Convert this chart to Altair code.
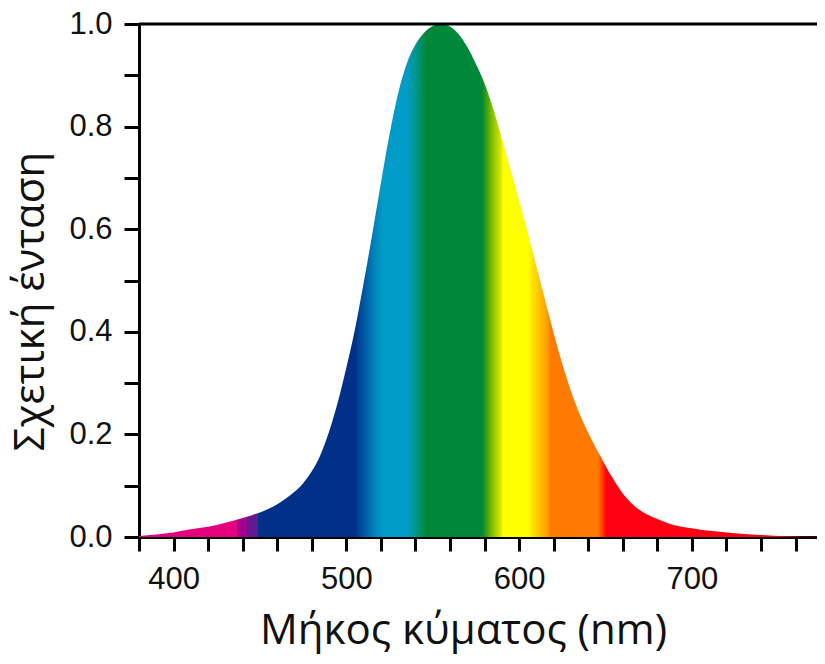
import altair as alt
import pandas as pd

# Relative luminous sensitivity
wavelength = [380, 390, 400, 410, 420, 430, 440, 445, 450, 455, 460, 465, 470, 475,
              480, 485, 490, 495, 500, 505, 510, 515, 520, 525, 530, 535, 540, 545,
              550, 555, 560, 565, 570, 575, 580, 585, 590, 595, 600, 605, 610, 615,
              620, 625, 630, 635, 640, 645, 650, 655, 660, 665, 670, 680, 690, 700,
              710, 720, 730, 740, 750, 760, 770, 780]
intensity = [0.002, 0.005, 0.009, 0.015, 0.020, 0.028, 0.037, 0.042, 0.048, 0.055,
             0.064, 0.075, 0.088, 0.105, 0.128, 0.160, 0.205, 0.262, 0.330, 0.405,
             0.495, 0.590, 0.690, 0.785, 0.865, 0.923, 0.960, 0.983, 0.996, 1.000,
             0.995, 0.980, 0.955, 0.922, 0.884, 0.835, 0.777, 0.716, 0.655, 0.593,
             0.528, 0.462, 0.397, 0.337, 0.284, 0.240, 0.203, 0.170, 0.139, 0.110,
             0.085, 0.066, 0.052, 0.035, 0.023, 0.017, 0.012, 0.009, 0.006, 0.004,
             0.002, 0.001, 0.0005, 0.0]

# Spectrum colour bands (wavelength in nm -> colour)
stop_nm = [380, 436.5, 436.6, 442.7, 442.8, 449, 449.1, 505, 508, 512, 516, 521, 535,
           540, 546, 578.5, 581, 585, 589, 591, 605.5, 608, 612, 616, 618.5,
           645.5, 648, 650.5, 780]
stop_color = ["#E5007D", "#E5007D", "#A0048E", "#A0048E", "#5F1A8E", "#5F1A8E",
              "#003087", "#003087", "#00479B", "#0063A8", "#0082B8", "#009CC7",
              "#009CC7", "#00978F", "#00883A", "#00883A", "#3A9E12", "#8DC400",
              "#D4E400", "#FFFF00", "#FFFF00", "#FFE000", "#FFC000", "#FFA000",
              "#FF7A00", "#FF7A00", "#FF4000", "#FF0012", "#FF0012"]

x_ticks = list(range(380, 761, 20))
y_ticks = [0.0, 0.1, 0.2, 0.3, 0.4, 0.5, 0.6, 0.7, 0.8, 0.9, 1.0]

df = pd.DataFrame({"wl": wavelength, "v": intensity})
span = wavelength[-1] - wavelength[0]
gradient = alt.LinearGradient(
    gradient="linear",
    stops=[alt.GradientStop(offset=(n - wavelength[0]) / span, color=c)
           for n, c in zip(stop_nm, stop_color)],
    x1=0, x2=1, y1=0, y2=0,
)

x_axis = alt.Axis(
    values=x_ticks,
    labelExpr="datum.value % 100 == 0 ? datum.value : ''",
    tickSize=14, tickWidth=3, tickColor="black",
    domainWidth=3, domainColor="black",
    labelFont="Liberation Sans", labelFontSize=31, labelColor="#111",
    labelPadding=13, labelOverlap=False, labelFlush=False,
    title="Μήκος κύματος (nm)", titleFont="Open Sans", titleFontSize=42,
    titleFontWeight="normal", titleColor="#111", titlePadding=16,
    titleX=324, titleAnchor="middle",
    grid=False,
)
y_axis = alt.Axis(
    values=y_ticks,
    labelExpr="round(datum.value*10) % 2 == 0 ? format(datum.value, '.1f') : ''",
    tickSize=15, tickWidth=3, tickColor="black",
    domainWidth=3, domainColor="black",
    labelFont="Liberation Sans", labelFontSize=31, labelColor="#111",
    labelPadding=12, labelOverlap=False, labelFlush=False,
    title="Σχετική ένταση", titleFont="Open Sans", titleFontSize=42,
    titleFontWeight="normal", titleColor="#111", titlePadding=16,
    titleY=277, titleAnchor="middle",
    grid=False,
)

area = alt.Chart(df).mark_area(
    color=gradient, interpolate="monotone", clip=True, line=False
).encode(
    x=alt.X("wl:Q", scale=alt.Scale(domain=[380, 772.4], nice=False, zero=False), axis=x_axis),
    y=alt.Y("v:Q", scale=alt.Scale(domain=[0, 1], nice=False), axis=y_axis),
)

top_line = alt.Chart(pd.DataFrame({"t": [1]})).mark_rule(
    color="black", strokeWidth=3
).encode(y=alt.datum(1.0))

chart = alt.layer(area, top_line).properties(
    width=678, height=513,
    autosize=alt.AutoSizeParams(type="none"),
    padding={"left": 131, "top": 16, "right": 0, "bottom": 119},
).configure_view(stroke=None)

chart.save("out.html", embed_options={"renderer": "svg", "actions": False})
